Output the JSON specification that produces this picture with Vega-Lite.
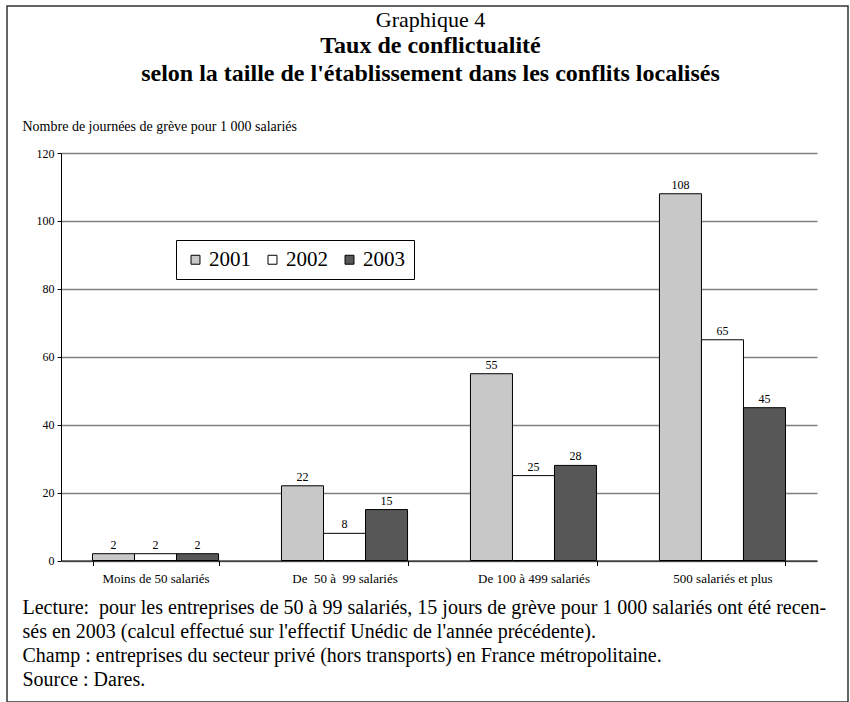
{
  "$schema": "https://vega.github.io/schema/vega-lite/v6.json",
  "width": 841,
  "height": 696,
  "autosize": {"type": "none"},
  "padding": {"left": 7, "top": 6, "right": 2, "bottom": 0},
  "background": "white",
  "title": {
    "text": "Graphique 4",
    "subtitle": ["Taux de conflictualité", "selon la taille de l'établissement dans les conflits localisés"],
    "frame": "group",
    "anchor": "middle",
    "offset": -81,
    "dx": 3
  },
  "data": {
    "values": [
      {"taille": "Moins de 50 salariés", "annee": "2001", "valeur": 2},
      {"taille": "Moins de 50 salariés", "annee": "2002", "valeur": 2},
      {"taille": "Moins de 50 salariés", "annee": "2003", "valeur": 2},
      {"taille": "De\u00a0 50 à\u00a0 99 salariés", "annee": "2001", "valeur": 22},
      {"taille": "De\u00a0 50 à\u00a0 99 salariés", "annee": "2002", "valeur": 8},
      {"taille": "De\u00a0 50 à\u00a0 99 salariés", "annee": "2003", "valeur": 15},
      {"taille": "De 100 à 499 salariés", "annee": "2001", "valeur": 55},
      {"taille": "De 100 à 499 salariés", "annee": "2002", "valeur": 25},
      {"taille": "De 100 à 499 salariés", "annee": "2003", "valeur": 28},
      {"taille": "500 salariés et plus", "annee": "2001", "valeur": 108},
      {"taille": "500 salariés et plus", "annee": "2002", "valeur": 65},
      {"taille": "500 salariés et plus", "annee": "2003", "valeur": 45}
    ]
  },
  "encoding": {
    "x": {
      "field": "taille",
      "type": "nominal",
      "sort": null,
      "scale": {"range": [54, 810], "paddingInner": 0.333, "paddingOuter": 0.1667},
      "axis": {
        "offset": -141.5,
        "labelAngle": 0,
        "labelFontSize": 13,
        "labelPadding": 7,
        "tickBand": "extent",
        "tickSize": 5,
        "grid": false,
        "title": [
          "Lecture:\u00a0 pour les entreprises de 50 à 99 salariés, 15 jours de grève pour 1 000 salariés ont été recen-",
          "sés en 2003 (calcul effectué sur l'effectif Unédic de l'année précédente).",
          "Champ : entreprises du secteur privé (hors transports) en France métropolitaine.",
          "Source : Dares."
        ],
        "titleAlign": "left",
        "titleAnchor": "start",
        "titleBaseline": "alphabetic",
        "titleX": 15,
        "titleY": 52.5,
        "titleFontSize": 20,
        "titleLineHeight": 24,
        "titleFontWeight": "normal"
      }
    },
    "xOffset": {
      "field": "annee",
      "type": "nominal",
      "scale": {"paddingInner": 0, "paddingOuter": 0}
    },
    "y": {
      "field": "valeur",
      "type": "quantitative",
      "scale": {"domain": [0, 120], "range": [554.5, 147], "nice": false},
      "axis": {
        "values": [0, 20, 40, 60, 80, 100, 120],
        "offset": -54,
        "labelFontSize": 12,
        "labelPadding": 3,
        "tickSize": 4,
        "gridColor": "#808080",
        "gridWidth": 1.3,
        "title": "Nombre de journées de grève pour 1 000 salariés",
        "titleAngle": 0,
        "titleAlign": "left",
        "titleBaseline": "alphabetic",
        "titleX": -39,
        "titleY": 124,
        "titleFontSize": 14,
        "titleFontWeight": "normal"
      }
    }
  },
  "layer": [
    {
      "mark": {"type": "bar", "stroke": "black", "strokeWidth": 1},
      "encoding": {
        "color": {
          "field": "annee",
          "type": "nominal",
          "scale": {"domain": ["2001", "2002", "2003"], "range": ["#c8c8c8", "#ffffff", "#575757"]},
          "legend": {
            "orient": "none",
            "legendX": 169,
            "legendY": 234,
            "direction": "horizontal",
            "title": null,
            "strokeColor": "black",
            "fillColor": "white",
            "padding": 9,
            "labelFontSize": 21,
            "labelOffset": 3,
            "columnPadding": 11,
            "symbolType": "square",
            "symbolSize": 80,
            "symbolStrokeColor": "black",
            "symbolStrokeWidth": 1
          }
        }
      }
    },
    {
      "mark": {"type": "text", "baseline": "bottom", "dy": -2, "fontSize": 12},
      "encoding": {"text": {"field": "valeur", "type": "quantitative"}}
    }
  ],
  "config": {
    "font": "Liberation Serif",
    "view": {"stroke": "#333333", "strokeWidth": 1.5},
    "axis": {
      "labelColor": "black",
      "titleColor": "black",
      "domainColor": "black",
      "tickColor": "black",
      "domainWidth": 1,
      "labelFont": "Liberation Serif",
      "titleFont": "Liberation Serif"
    },
    "legend": {"labelColor": "black", "labelFont": "Liberation Serif"},
    "title": {
      "color": "black",
      "font": "Liberation Serif",
      "fontSize": 22,
      "fontWeight": "normal",
      "subtitleColor": "black",
      "subtitleFont": "Liberation Serif",
      "subtitleFontSize": 24,
      "subtitleFontWeight": "bold",
      "subtitleLineHeight": 28,
      "subtitlePadding": 2
    },
    "text": {"color": "black"}
  }
}
